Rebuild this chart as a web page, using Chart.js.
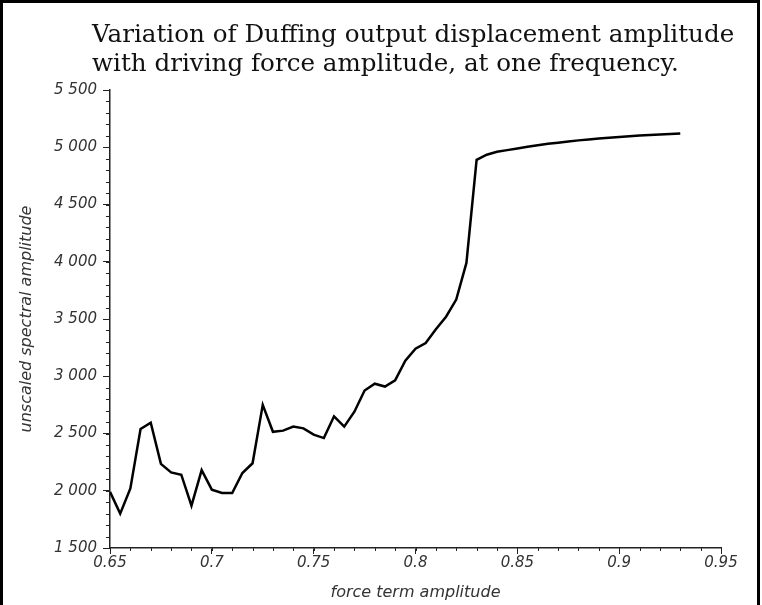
<!DOCTYPE html>
<html>
<head>
  <title>Duffing amplitude vs driving force</title>
  <script src="https://cdn.jsdelivr.net/npm/chart.js"></script>
  <style>
    body { margin: 0; background: #fff; }
    #wrap { position: relative; width: 762px; height: 605px; overflow: hidden; background: #fff; }
    #duffing-chart { display: block; }
    #frame { position: absolute; left: 0; top: 0; width: 754px; height: 640px; border: 3px solid #000; pointer-events: none; }
  </style>
</head>
<body>
  <div id="wrap">
    <canvas id="duffing-chart" width="762" height="605"></canvas>
    <div id="frame"></div>
  </div>
  <script>
    const titleLines = [
      "Variation of Duffing output displacement amplitude",
      "with driving force amplitude, at one frequency."
    ];
    const xAxisTitle = "force term amplitude";
    const yAxisTitle = "unscaled spectral amplitude";

    // force term amplitude (x) and spectral amplitude (y)
    const forceAmp = [
      0.650, 0.655, 0.660, 0.665, 0.670, 0.675, 0.680, 0.685, 0.690, 0.695,
      0.700, 0.705, 0.710, 0.715, 0.720, 0.725, 0.730, 0.735, 0.740, 0.745,
      0.750, 0.755, 0.760, 0.765, 0.770, 0.775, 0.780, 0.785, 0.790, 0.795,
      0.800, 0.805, 0.810, 0.815, 0.820, 0.825, 0.830, 0.835, 0.840, 0.845,
      0.850, 0.855, 0.860, 0.865, 0.870, 0.875, 0.880, 0.885, 0.890, 0.895,
      0.900, 0.905, 0.910, 0.915, 0.920, 0.925, 0.930
    ];
    const spectralAmp = [
      1990, 1800, 2020, 2540, 2595, 2235, 2160, 2140, 1870, 2180,
      2010, 1980, 1980, 2155, 2240, 2750, 2515, 2525, 2560, 2545,
      2490, 2460, 2650, 2560, 2690, 2875, 2935, 2910, 2965, 3135,
      3240, 3290, 3410, 3520, 3670, 3990, 4890, 4935, 4960, 4975,
      4990, 5005, 5018, 5030, 5040, 5050, 5060, 5068, 5076, 5083,
      5090, 5097, 5103, 5108, 5112, 5116, 5120
    ];

    const xTicks = [0.65, 0.7, 0.75, 0.8, 0.85, 0.9, 0.95];
    const yTicks = [1500, 2000, 2500, 3000, 3500, 4000, 4500, 5000, 5500];
    const xMinorStep = 0.01;
    const yMinorStep = 100;

    const axisColor = "#222";
    const labelColor = "#333";
    const tickFont = { family: "DejaVu Sans", size: 15, style: "italic" };
    const titleFont = { family: "DejaVu Sans", size: 16, style: "italic" };

    function spaced(v) {
      return String(v).replace(/\B(?=(\d{3})+(?!\d))/g, " ");
    }

    // minor ticks (outside the axes, shorter than the major ones)
    const minorTicks = {
      id: "minorTicks",
      afterDraw(chart) {
        const { ctx, chartArea, scales: { x, y } } = chart;
        ctx.save();
        ctx.strokeStyle = axisColor;
        ctx.lineWidth = 1;
        ctx.beginPath();
        const nx = Math.round((x.max - x.min) / xMinorStep);
        for (let i = 0; i <= nx; i++) {
          const v = x.min + i * xMinorStep;
          const px = Math.round(x.getPixelForValue(v)) + 0.5;
          ctx.moveTo(px, chartArea.bottom);
          ctx.lineTo(px, chartArea.bottom + 3);
        }
        const ny = Math.round((y.max - y.min) / yMinorStep);
        for (let i = 0; i <= ny; i++) {
          const v = y.min + i * yMinorStep;
          const py = Math.round(y.getPixelForValue(v)) + 0.5;
          ctx.moveTo(chartArea.left - 4, py);
          ctx.lineTo(chartArea.left, py);
        }
        ctx.stroke();
        ctx.restore();
      }
    };

    // two-line title, left aligned a little left of the plot area
    const titleBlock = {
      id: "titleBlock",
      afterDraw(chart) {
        const { ctx, chartArea } = chart;
        ctx.save();
        ctx.fillStyle = "#111";
        ctx.font = "24.6px 'DejaVu Serif'";
        ctx.textAlign = "left";
        ctx.textBaseline = "alphabetic";
        titleLines.forEach((line, i) => {
          ctx.fillText(line, chartArea.left - 18, 42 + i * 29);
        });
        ctx.restore();
      }
    };

    const ctx = document.getElementById("duffing-chart").getContext("2d");
    const chart = new Chart(ctx, {
      type: "line",
      data: {
        datasets: [{
          data: forceAmp.map((f, i) => ({ x: f, y: spectralAmp[i] })),
          borderColor: "#000",
          borderWidth: 2.5,
          pointRadius: 0,
          tension: 0,
          fill: false
        }]
      },
      options: {
        responsive: false,
        animation: false,
        layout: { padding: { top: 90, right: 41, bottom: 0, left: 0 } },
        plugins: {
          legend: { display: false },
          tooltip: { enabled: false },
          title: { display: false }
        },
        scales: {
          x: {
            type: "linear",
            min: 0.65,
            max: 0.95,
            afterBuildTicks: s => { s.ticks = xTicks.map(v => ({ value: v })); },
            afterFit: s => { s.height = 57; },
            grid: { drawOnChartArea: false, tickLength: 6, color: axisColor },
            border: { display: true, color: axisColor, width: 1.5 },
            ticks: {
              color: labelColor,
              font: tickFont,
              padding: 0,
              maxRotation: 0,
              callback: v => String(Number(v.toFixed(2)))
            },
            title: {
              display: true,
              text: xAxisTitle,
              color: labelColor,
              font: titleFont,
              padding: { top: 0, bottom: 3 }
            }
          },
          y: {
            type: "linear",
            min: 1500,
            max: 5500,
            afterBuildTicks: s => { s.ticks = yTicks.map(v => ({ value: v })); },
            afterFit: s => { s.width = 110; },
            grid: { drawOnChartArea: false, tickLength: 7, color: axisColor },
            border: { display: true, color: axisColor, width: 1.5 },
            ticks: {
              color: labelColor,
              font: tickFont,
              padding: 6,
              callback: v => spaced(v)
            },
            title: {
              display: true,
              text: yAxisTitle,
              color: labelColor,
              font: titleFont,
              padding: { top: 17, bottom: 0 }
            }
          }
        }
      },
      plugins: [minorTicks, titleBlock]
    });
  </script>
</body>
</html>
